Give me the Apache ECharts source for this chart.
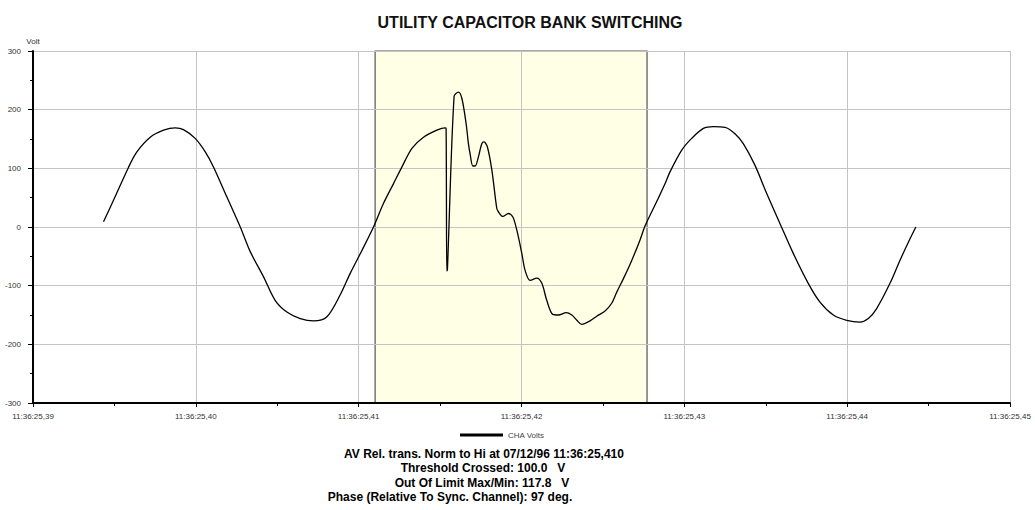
<!DOCTYPE html>
<html>
<head>
<meta charset="utf-8">
<script src="https://cdn.jsdelivr.net/npm/echarts@6/dist/echarts.min.js"></script>
<style>
  html, body { margin: 0; padding: 0; background: #fff; }
  #chart { width: 1035px; height: 510px; }
</style>
</head>
<body>
<div id="chart"></div>
<script>
// time in ms after 11:36:25 (x axis), voltage
var timeMs = [
  394.33, 394.95, 395.87, 396.38, 397.20, 398.02, 398.74, 399.24, 399.96, 400.58,
  401.09, 401.91, 402.73, 403.34, 404.16, 404.87, 405.59, 406.41, 407.23, 408.05,
  408.86, 409.48, 410.20, 410.91, 411.52, 412.14, 412.65, 413.27, 413.98, 414.80,
  415.31, 415.37, 415.41, 415.45, 415.86, 416.13, 416.34, 416.60, 416.74, 416.84,
  417.01, 417.15, 417.35, 417.56, 417.70, 417.91, 418.18, 418.48, 418.58, 418.85,
  419.20, 419.47, 419.71, 420.02, 420.22, 420.53, 420.94, 421.25, 421.55, 421.92,
  422.27, 422.74, 423.09, 423.40, 423.70, 424.21, 424.62, 425.13, 425.54, 425.85,
  426.26, 426.77, 427.28, 427.59, 428.00, 428.40, 428.82, 429.12, 429.84, 430.45,
  431.17, 431.78, 432.50, 433.11, 433.62, 434.34, 435.06, 435.87, 436.69, 437.61,
  438.33, 439.15, 439.97, 440.79, 441.30, 441.81, 442.63, 443.24, 443.86, 444.22
];
var chaVolts = [
  9, 46, 102, 128, 153, 165, 169, 166, 151, 128,
  102, 51, 0, -42, -85, -125, -145, -156, -160, -153,
  -116, -79, -40, 0, 40, 74, 102, 134, 153, 165,
  169, 168, -75, -73, 223, 230, 219, 176, 142, 125,
  104, 104, 119, 142, 145, 136, 97, 32, 26, 18,
  23, 17, -5, -45, -74, -91, -87, -96, -125, -149,
  -150, -146, -150, -159, -166, -160, -152, -143, -130, -111,
  -88, -57, -22, 2, 26, 49, 74, 94, 131, 151,
  168, 171, 170, 159, 142, 105, 57, 6, -45, -96,
  -128, -150, -159, -162, -156, -139, -96, -57, -20, 0
];
// recorded event window (ms)
var eventWindow = [411.01, 427.71];
var xTicks = [390, 450, 10];
var yTicks = [-300, 300, 100];
var infoLines = [
  'AV Rel. trans. Norm to Hi at 07/12/96 11:36:25,410',
  'Threshold Crossed: 100.0   V',
  'Out Of Limit Max/Min: 117.8   V',
  'Phase (Relative To Sync. Channel): 97 deg.'
];
var infoCenter = [484, 483, 482, 450];

var font = '"Liberation Sans", Arial, sans-serif';
var points = timeMs.map(function (t, i) { return [t, chaVolts[i]]; });

var chart = echarts.init(document.getElementById('chart'), null, { renderer: 'svg' });
chart.setOption({
  animation: false,
  backgroundColor: '#fff',
  textStyle: { fontFamily: font },
  title: {
    text: 'UTILITY CAPACITOR BANK SWITCHING',
    left: 525,
    textAlign: 'center',
    top: 9,
    textStyle: { fontFamily: font, fontSize: 16, fontWeight: 'bold', color: '#111' }
  },
  grid: { left: 33, right: 25, top: 51, bottom: 107, containLabel: false },
  legend: {
    data: [{ name: 'CHA Volts', icon: 'rect' }],
    left: 455,
    top: 426,
    itemWidth: 43,
    itemHeight: 3,
    itemGap: 7,
    textStyle: { fontFamily: font, fontSize: 8, color: '#444' }
  },
  xAxis: {
    type: 'value',
    min: xTicks[0],
    max: xTicks[1],
    interval: xTicks[2],
    axisLine: { show: true, onZero: false, lineStyle: { color: '#000', width: 2 } },
    axisTick: { show: true, length: 4, lineStyle: { color: '#000' } },
    minorTick: { show: true, splitNumber: 2, length: 3, lineStyle: { color: '#000' } },
    splitLine: { show: true, lineStyle: { color: '#c4c4c4', width: 1 } },
    axisLabel: {
      fontFamily: font, fontSize: 8, color: '#333', margin: 9,
      formatter: function (v) { return '11:36:25,' + String(Math.round(v / 10)).slice(-2); }
    }
  },
  yAxis: {
    type: 'value',
    min: yTicks[0],
    max: yTicks[1],
    interval: yTicks[2],
    name: 'Volt',
    nameLocation: 'end',
    nameGap: 6,
    nameTextStyle: { fontFamily: font, fontSize: 8, color: '#333', align: 'center' },
    axisLine: { show: true, lineStyle: { color: '#000', width: 2 } },
    axisTick: { show: true, length: 5, lineStyle: { color: '#000' } },
    minorTick: { show: true, splitNumber: 2, length: 3, lineStyle: { color: '#000' } },
    splitLine: { show: true, lineStyle: { color: '#c4c4c4', width: 1 } },
    axisLabel: { fontFamily: font, fontSize: 8, color: '#333', margin: 12 }
  },
  series: [{
    name: 'CHA Volts',
    type: 'line',
    data: points,
    symbol: 'none',
    smooth: 0.3,
    clip: false,
    itemStyle: { color: '#000' },
    lineStyle: { color: '#000', width: 1.3 },
    markArea: {
      silent: true,
      z: -1,
      itemStyle: { color: '#ffffe6', borderColor: '#555', borderWidth: 1.2 },
      data: [[
        { xAxis: eventWindow[0], yAxis: -300 },
        { xAxis: eventWindow[1], yAxis: 306 }
      ]]
    }
  }],
  graphic: infoLines.map(function (line, i) {
    return {
      type: 'text',
      x: infoCenter[i],
      y: 448 + i * 14.4,
      style: { text: line, font: 'bold 12px ' + font, fill: '#000', align: 'center', verticalAlign: 'top' }
    };
  })
});
window.addEventListener('resize', function () { chart.resize(); });
</script>
</body>
</html>
